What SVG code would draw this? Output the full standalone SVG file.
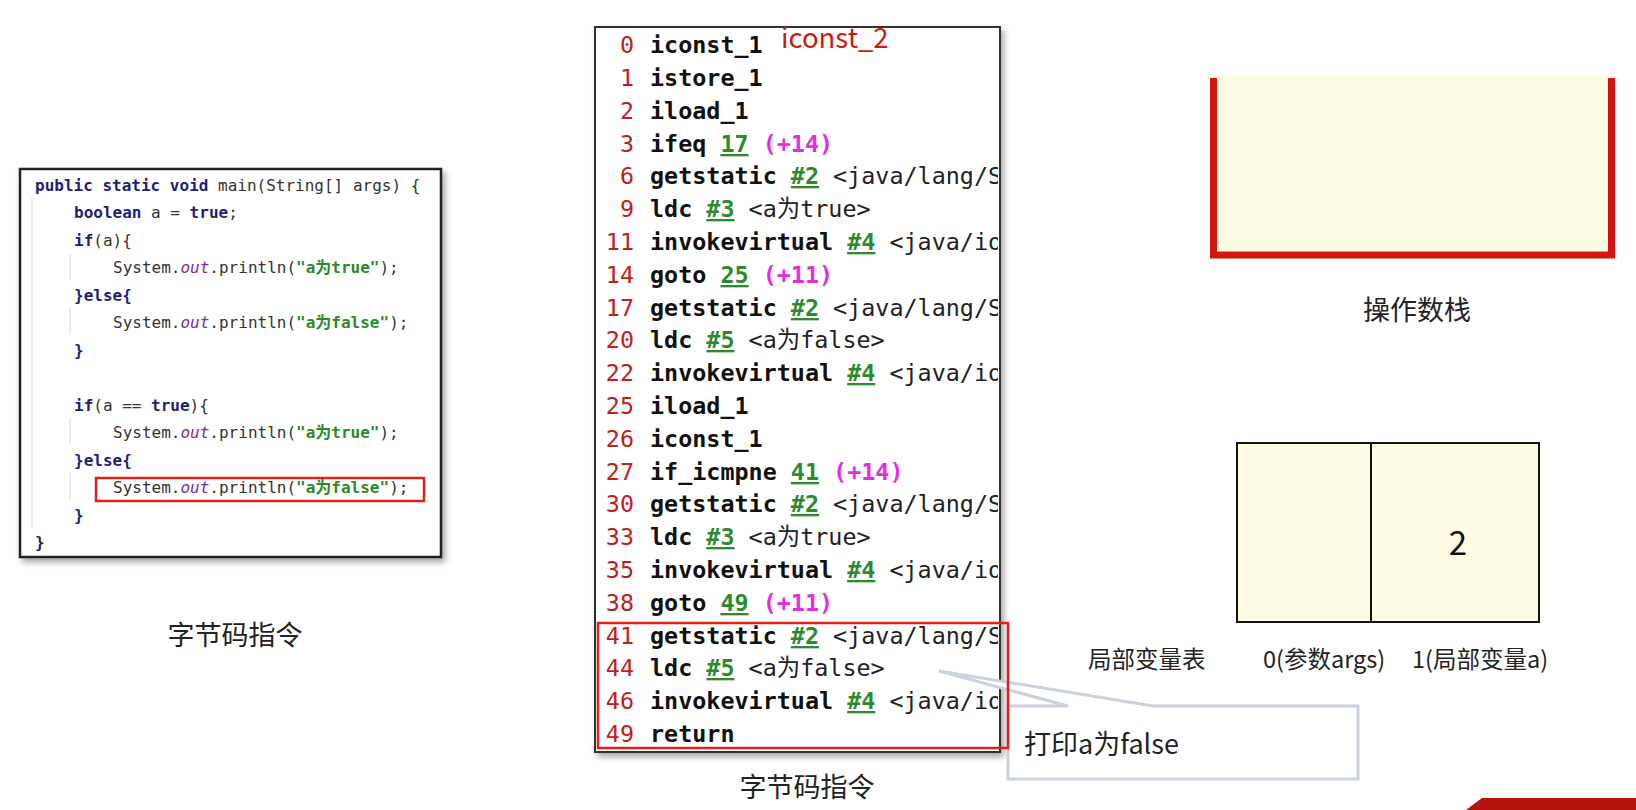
<svg xmlns="http://www.w3.org/2000/svg" width="1636" height="810" viewBox="0 0 1636 810">
<style>
.code{font-family:"DejaVu Sans Mono","Liberation Mono","Noto Sans CJK SC",monospace;font-size:16px;fill:#333}
.kw{font-weight:bold;fill:#1e1e78}
.out{font-style:italic;fill:#7a2e9a}
.str{font-weight:bold;fill:#2a8a2a}
.bc{font-family:"DejaVu Sans Mono","Liberation Mono","Noto Sans CJK SC",monospace;font-size:23.4px;font-weight:bold;fill:#111}
.num{fill:#c0201a;font-weight:normal}
.lnk{fill:#2e8a2e;text-decoration:underline}
.off{fill:#e22ee0}
.ref{font-weight:normal;fill:#222}
.cap{font-family:"Noto Sans CJK SC","Noto Sans",sans-serif;font-size:27px;fill:#222}
.lbl{font-family:"Noto Sans CJK SC","Noto Sans",sans-serif;font-size:23.5px;fill:#222}
.guide{stroke:#e4e4e4;stroke-width:1.5}
.cream{fill:#fdfbe4}
</style>
<defs>
<filter id="sh" x="-5%" y="-5%" width="115%" height="115%">
<feDropShadow dx="3" dy="4" stdDeviation="3" flood-color="#000" flood-opacity="0.35"/>
</filter>
<clipPath id="bcclip"><rect x="595" y="27" width="403" height="725"/></clipPath>
</defs>
<rect width="1636" height="810" fill="#fff"/>

<g id="source-code">
<rect x="20" y="169" width="421" height="388" fill="#fff" stroke="#222" stroke-width="2.5" filter="url(#sh)"/>
<line class="guide" x1="32" y1="198" x2="32" y2="528"/>
<line class="guide" x1="70" y1="254" x2="70" y2="280"/>
<line class="guide" x1="70" y1="308" x2="70" y2="335"/>
<line class="guide" x1="70" y1="418" x2="70" y2="443"/>
<line class="guide" x1="70" y1="472" x2="70" y2="499"/>
<text class="code" x="35" y="191"><tspan class="kw">public static void</tspan> main(String[] args) {</text>
<text class="code" x="74" y="218"><tspan class="kw">boolean</tspan> a = <tspan class="kw">true</tspan>;</text>
<text class="code" x="74" y="246"><tspan class="kw">if</tspan>(a){</text>
<text class="code" x="113" y="273">System.<tspan class="out">out</tspan>.println(<tspan class="str">"a为true"</tspan>);</text>
<text class="code" x="74" y="301"><tspan class="kw">}else{</tspan></text>
<text class="code" x="113" y="328">System.<tspan class="out">out</tspan>.println(<tspan class="str">"a为false"</tspan>);</text>
<text class="code" x="74" y="356"><tspan class="kw">}</tspan></text>
<text class="code" x="74" y="411"><tspan class="kw">if</tspan>(a == <tspan class="kw">true</tspan>){</text>
<text class="code" x="113" y="438">System.<tspan class="out">out</tspan>.println(<tspan class="str">"a为true"</tspan>);</text>
<text class="code" x="74" y="466"><tspan class="kw">}else{</tspan></text>
<text class="code" x="113" y="493">System.<tspan class="out">out</tspan>.println(<tspan class="str">"a为false"</tspan>);</text>
<text class="code" x="74" y="521"><tspan class="kw">}</tspan></text>
<text class="code" x="35" y="548"><tspan class="kw">}</tspan></text>
<rect x="96" y="478" width="328" height="23" fill="none" stroke="#e0201a" stroke-width="2.5"/>
</g>
<text id="cap-left" class="cap" x="235" y="645" text-anchor="middle" font-size="27.5">字节码指令</text>

<g id="bytecode">
<rect x="595" y="27" width="405" height="725" fill="#fff" stroke="#333" stroke-width="2" filter="url(#sh)"/>
<g clip-path="url(#bcclip)">
<text class="bc" y="53"><tspan class="num" x="634" text-anchor="end">0</tspan><tspan x="650">iconst_1</tspan></text>
<text class="bc" y="86"><tspan class="num" x="634" text-anchor="end">1</tspan><tspan x="650">istore_1</tspan></text>
<text class="bc" y="119"><tspan class="num" x="634" text-anchor="end">2</tspan><tspan x="650">iload_1</tspan></text>
<text class="bc" y="152"><tspan class="num" x="634" text-anchor="end">3</tspan><tspan x="650">ifeq </tspan><tspan class="lnk">17</tspan> <tspan class="off">(+14)</tspan></text>
<text class="bc" y="184"><tspan class="num" x="634" text-anchor="end">6</tspan><tspan x="650">getstatic </tspan><tspan class="lnk">#2</tspan> <tspan class="ref">&lt;java/lang/S</tspan></text>
<text class="bc" y="217"><tspan class="num" x="634" text-anchor="end">9</tspan><tspan x="650">ldc </tspan><tspan class="lnk">#3</tspan> <tspan class="ref">&lt;a为true&gt;</tspan></text>
<text class="bc" y="250"><tspan class="num" x="634" text-anchor="end">11</tspan><tspan x="650">invokevirtual </tspan><tspan class="lnk">#4</tspan> <tspan class="ref">&lt;java/io</tspan></text>
<text class="bc" y="283"><tspan class="num" x="634" text-anchor="end">14</tspan><tspan x="650">goto </tspan><tspan class="lnk">25</tspan> <tspan class="off">(+11)</tspan></text>
<text class="bc" y="316"><tspan class="num" x="634" text-anchor="end">17</tspan><tspan x="650">getstatic </tspan><tspan class="lnk">#2</tspan> <tspan class="ref">&lt;java/lang/S</tspan></text>
<text class="bc" y="348"><tspan class="num" x="634" text-anchor="end">20</tspan><tspan x="650">ldc </tspan><tspan class="lnk">#5</tspan> <tspan class="ref">&lt;a为false&gt;</tspan></text>
<text class="bc" y="381"><tspan class="num" x="634" text-anchor="end">22</tspan><tspan x="650">invokevirtual </tspan><tspan class="lnk">#4</tspan> <tspan class="ref">&lt;java/io</tspan></text>
<text class="bc" y="414"><tspan class="num" x="634" text-anchor="end">25</tspan><tspan x="650">iload_1</tspan></text>
<text class="bc" y="447"><tspan class="num" x="634" text-anchor="end">26</tspan><tspan x="650">iconst_1</tspan></text>
<text class="bc" y="480"><tspan class="num" x="634" text-anchor="end">27</tspan><tspan x="650">if_icmpne </tspan><tspan class="lnk">41</tspan> <tspan class="off">(+14)</tspan></text>
<text class="bc" y="512"><tspan class="num" x="634" text-anchor="end">30</tspan><tspan x="650">getstatic </tspan><tspan class="lnk">#2</tspan> <tspan class="ref">&lt;java/lang/S</tspan></text>
<text class="bc" y="545"><tspan class="num" x="634" text-anchor="end">33</tspan><tspan x="650">ldc </tspan><tspan class="lnk">#3</tspan> <tspan class="ref">&lt;a为true&gt;</tspan></text>
<text class="bc" y="578"><tspan class="num" x="634" text-anchor="end">35</tspan><tspan x="650">invokevirtual </tspan><tspan class="lnk">#4</tspan> <tspan class="ref">&lt;java/io</tspan></text>
<text class="bc" y="611"><tspan class="num" x="634" text-anchor="end">38</tspan><tspan x="650">goto </tspan><tspan class="lnk">49</tspan> <tspan class="off">(+11)</tspan></text>
<text class="bc" y="644"><tspan class="num" x="634" text-anchor="end">41</tspan><tspan x="650">getstatic </tspan><tspan class="lnk">#2</tspan> <tspan class="ref">&lt;java/lang/S</tspan></text>
<text class="bc" y="676"><tspan class="num" x="634" text-anchor="end">44</tspan><tspan x="650">ldc </tspan><tspan class="lnk">#5</tspan> <tspan class="ref">&lt;a为false&gt;</tspan></text>
<text class="bc" y="709"><tspan class="num" x="634" text-anchor="end">46</tspan><tspan x="650">invokevirtual </tspan><tspan class="lnk">#4</tspan> <tspan class="ref">&lt;java/io</tspan></text>
<text class="bc" y="742"><tspan class="num" x="634" text-anchor="end">49</tspan><tspan x="650">return</tspan></text>
</g>
</g>
<text id="annot-iconst2" x="781" y="48" font-family="Noto Sans CJK SC,Noto Sans,sans-serif" font-size="27.5" fill="#cc1a14">iconst_2</text>
<text id="cap-mid" class="cap" x="807" y="797" text-anchor="middle">字节码指令</text>

<g id="callout">
<path d="M1008 706 L1068 706 L939 671 L1153 706 L1358 706 L1358 779 L1008 779 Z" fill="#fff" stroke="#c9d2de" stroke-width="3" stroke-linejoin="miter"/>
<text class="cap" x="1024" y="754" font-size="28.5">打印a为false</text>
</g>
<rect id="highlight" x="598" y="623" width="410" height="125" fill="none" stroke="#e0201a" stroke-width="2.5"/>

<g id="operand-stack">
<rect class="cream" x="1213" y="75" width="399" height="180"/>
<path d="M1213.5 78 L1213.5 255 L1611.5 255 L1611.5 78" fill="none" stroke="#d2150d" stroke-width="7"/>
<text class="cap" x="1417" y="320" text-anchor="middle" font-size="27.5">操作数栈</text>
</g>

<g id="local-vars">
<rect class="cream" x="1237" y="443" width="302" height="179" stroke="#111" stroke-width="2"/>
<line x1="1371" y1="443" x2="1371" y2="622" stroke="#111" stroke-width="2"/>
<text x="1458" y="555" text-anchor="middle" font-family="Noto Sans CJK SC,Noto Sans,sans-serif" font-size="33" fill="#111">2</text>
<text class="lbl" x="1088" y="668" font-size="24">局部变量表</text>
<text class="lbl" x="1263" y="668">0(参数args)</text>
<text class="lbl" x="1412" y="668">1(局部变量a)</text>
</g>

<g id="logo">
<path d="M1466 810 L1482 798 L1636 798 L1636 810 Z" fill="#b5140e"/>
</g>
</svg>
